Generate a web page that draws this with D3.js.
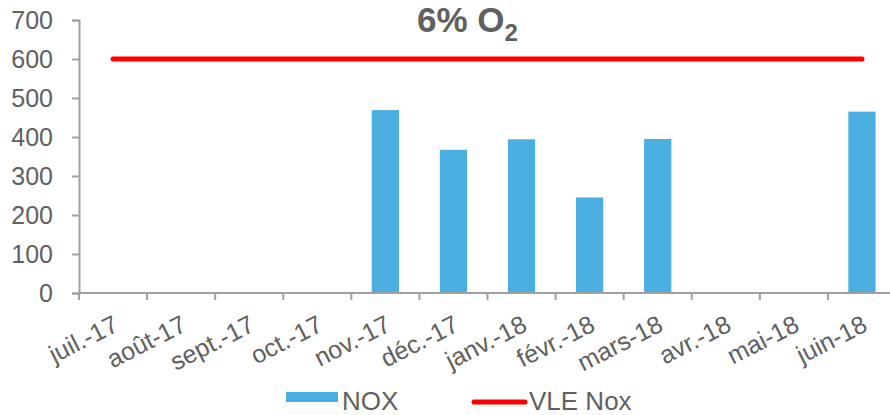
<!DOCTYPE html>
<html>
<head>
<meta charset="utf-8">
<script src="https://cdn.jsdelivr.net/npm/d3@7"></script>
<style>
  html, body { margin: 0; padding: 0; background: #fff; }
  svg { display: block; font-family: "Liberation Sans", Arial, sans-serif; }
</style>
</head>
<body>
<svg id="chart" width="890" height="415"></svg>
<script>
// Monthly NOx measurements (mg/Nm³ at 6% O2) and the emission limit value
const months = ["juil.-17", "août-17", "sept.-17", "oct.-17", "nov.-17", "déc.-17",
                "janv.-18", "févr.-18", "mars-18", "avr.-18", "mai-18", "juin-18"];
const noxValues = [null, null, null, null, 469, 367, 394, 245, 395, null, null, 465];
const vleValues = [600, 600, 600, 600, 600, 600, 600, 600, 600, 600, 600, 600];
const yTicks = [0, 100, 200, 300, 400, 500, 600, 700];

const textColor = "#606060";
const axisColor = "#a0a0a0";
const barColor = "#4aaee1";
const lineColor = "#ff0000";

const svg = d3.select("#chart");

const x = d3.scaleBand().domain(months).range([79, 896]).paddingInner(0).paddingOuter(0);
const y = d3.scaleLinear().domain([0, 700]).range([293, 20]);

// Title
const title = svg.append("text")
  .attr("x", 417).attr("y", 32)
  .attr("fill", textColor)
  .attr("font-weight", "bold")
  .attr("font-size", 35);
title.append("tspan").text("6% O");
title.append("tspan").attr("dy", 9).attr("font-size", 24).text("2");

// Y axis
const yAxis = svg.append("g")
  .attr("transform", "translate(79,0)")
  .call(d3.axisLeft(y).tickValues(yTicks).tickSize(7).tickPadding(19));
yAxis.select(".domain").attr("stroke", axisColor).attr("stroke-width", 2);
yAxis.selectAll(".tick line").attr("stroke", axisColor).attr("stroke-width", 2);
yAxis.selectAll(".tick text")
  .attr("fill", textColor)
  .attr("font-size", 25)
  .attr("font-family", "Liberation Sans, Arial, sans-serif");

// Bars
const barW = x.bandwidth() * 0.4;
svg.append("g").selectAll("rect")
  .data(months.map((m, i) => ({ m, v: noxValues[i] })).filter(d => d.v != null))
  .join("rect")
  .attr("x", d => x(d.m) + x.bandwidth() / 2 - barW / 2)
  .attr("width", barW)
  .attr("y", d => y(d.v))
  .attr("height", d => y(0) - y(d.v))
  .attr("fill", barColor);

// X axis: ticks at category boundaries
const xAxisG = svg.append("g");
xAxisG.append("line")
  .attr("x1", 79).attr("x2", 896)
  .attr("y1", y(0)).attr("y2", y(0))
  .attr("stroke", axisColor).attr("stroke-width", 2);
xAxisG.selectAll("line.tk")
  .data(months)
  .join("line")
  .attr("class", "tk")
  .attr("x1", d => x(d)).attr("x2", d => x(d))
  .attr("y1", y(0)).attr("y2", y(0) + 7)
  .attr("stroke", axisColor).attr("stroke-width", 2);
xAxisG.selectAll("text")
  .data(months)
  .join("text")
  .attr("transform", d => `translate(${x(d) + x.bandwidth() / 2 + 7},${330}) rotate(-27)`)
  .attr("text-anchor", "end")
  .attr("fill", textColor)
  .attr("font-size", 25)
  .text(d => d);

// Limit value line
const line = d3.line()
  .x((d, i) => x(months[i]) + x.bandwidth() / 2)
  .y(d => y(d));
svg.append("path")
  .datum(vleValues)
  .attr("d", line)
  .attr("fill", "none")
  .attr("stroke", lineColor)
  .attr("stroke-width", 5)
  .attr("stroke-linecap", "round");

// Legend
const legend = svg.append("g");
legend.append("rect")
  .attr("x", 286).attr("y", 392).attr("width", 52).attr("height", 10)
  .attr("fill", barColor);
legend.append("text")
  .attr("x", 342).attr("y", 410)
  .attr("fill", textColor).attr("font-size", 26)
  .text("NOX");
legend.append("line")
  .attr("x1", 474).attr("x2", 525)
  .attr("y1", 402).attr("y2", 402)
  .attr("stroke", lineColor).attr("stroke-width", 5)
  .attr("stroke-linecap", "round");
legend.append("text")
  .attr("x", 529).attr("y", 410)
  .attr("fill", textColor).attr("font-size", 26)
  .text("VLE Nox");
</script>
</body>
</html>
